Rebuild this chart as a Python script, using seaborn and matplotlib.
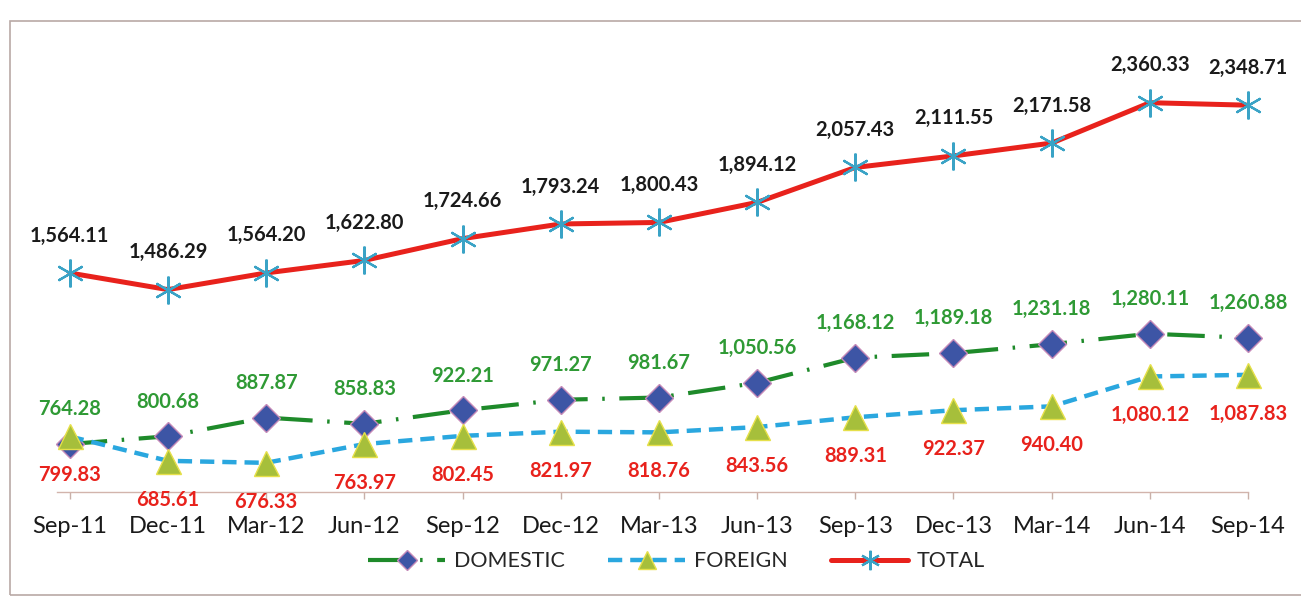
import numpy as np
import pandas as pd
import matplotlib
matplotlib.use("Agg")
import matplotlib.pyplot as plt
from matplotlib.patches import Rectangle
import seaborn as sns

# data
quarters = ["Sep-11", "Dec-11", "Mar-12", "Jun-12", "Sep-12", "Dec-12", "Mar-13",
            "Jun-13", "Sep-13", "Dec-13", "Mar-14", "Jun-14", "Sep-14"]
domestic = [764.28, 800.68, 887.87, 858.83, 922.21, 971.27, 981.67,
            1050.56, 1168.12, 1189.18, 1231.18, 1280.11, 1260.88]
foreign = [799.83, 685.61, 676.33, 763.97, 802.45, 821.97, 818.76,
           843.56, 889.31, 922.37, 940.40, 1080.12, 1087.83]
total = [1564.11, 1486.29, 1564.20, 1622.80, 1724.66, 1793.24, 1800.43,
         1894.12, 2057.43, 2111.55, 2171.58, 2360.33, 2348.71]

df = pd.DataFrame({"quarter": quarters, "DOMESTIC": domestic,
                   "FOREIGN": foreign, "TOTAL": total})

sns.set_style("white")
plt.rcParams["font.family"] = ["Lato", "DejaVu Sans"]

fig = plt.figure(figsize=(13.01, 5.97), dpi=100)
ax = fig.add_axes([0.0438, 0.1759, 0.9155, 0.7236])

# domestic: green long dash-dot with blue diamonds
sns.lineplot(data=df, x="quarter", y="DOMESTIC", sort=False, ax=ax, color="#1e8a2a",
             lw=3.0, marker="D", markersize=14, markerfacecolor="#3d55a5",
             markeredgecolor="#c58ab8", markeredgewidth=1, dashes=False, label="DOMESTIC")
ax.lines[-1].set_dashes((9, 3.5, 0.6, 3.5))

# foreign: light blue dashed with green-yellow triangles
sns.lineplot(data=df, x="quarter", y="FOREIGN", sort=False, ax=ax, color="#2aa7df",
             lw=3.2, marker="^", markersize=18, markerfacecolor="#a6bf3b",
             markeredgecolor="#e6e04a", markeredgewidth=1, label="FOREIGN")
ax.lines[-1].set_dashes((3.2, 1.8))

# total: red solid with cyan asterisks
sns.lineplot(data=df, x="quarter", y="TOTAL", sort=False, ax=ax, color="#e8221c",
             lw=3.6, marker=(6, 2, 0), markersize=20, markeredgecolor="#3aa3c6",
             markeredgewidth=1.6, label="TOTAL")

for ln in ax.lines:
    ln.set_clip_on(False)

# data labels
for i, q in enumerate(quarters):
    ax.annotate(f"{total[i]:,.2f}", (q, total[i]), xytext=(0, 27), textcoords="offset points",
                ha="center", va="center", fontsize=14.5, fontweight="bold", color="#1a1a1a")
    ax.annotate(f"{domestic[i]:,.2f}", (q, domestic[i]), xytext=(0, 25), textcoords="offset points",
                ha="center", va="center", fontsize=14.5, fontweight="bold", color="#2f9a35")
    ax.annotate(f"{foreign[i]:,.2f}", (q, foreign[i]), xytext=(0, -28), textcoords="offset points",
                ha="center", va="center", fontsize=14.5, fontweight="bold", color="#e8221c")

ax.set_xlim(-0.13, 12.0)
ax.set_ylim(540, 2560)
ax.set_xlabel("")
ax.set_ylabel("")
ax.set_yticks([])
for side in ["top", "right", "left"]:
    ax.spines[side].set_visible(False)
ax.spines["bottom"].set_color("#d2b4ac")
ax.spines["bottom"].set_linewidth(1.0)
ax.tick_params(axis="x", bottom=True, length=5, width=1, color="#c9b0a8",
               pad=12, labelsize=17, labelcolor="#1a1a1a")

ax.get_legend().remove()
handles, labels = ax.get_legend_handles_labels()
fig.legend(handles, labels, loc="center", bbox_to_anchor=(0.52, 0.06), ncol=3,
           frameon=False, fontsize=15.5, handlelength=3.6, columnspacing=2.0,
           handletextpad=0.4, markerscale=0.7)

# outer chart frame
fig.patches.append(Rectangle((10 / 1301, 2 / 597), 1.2, 574 / 597, transform=fig.transFigure,
                             fill=False, edgecolor="#b9a9a6", lw=1.2, clip_on=False))

fig.savefig("out.png", dpi=100)
